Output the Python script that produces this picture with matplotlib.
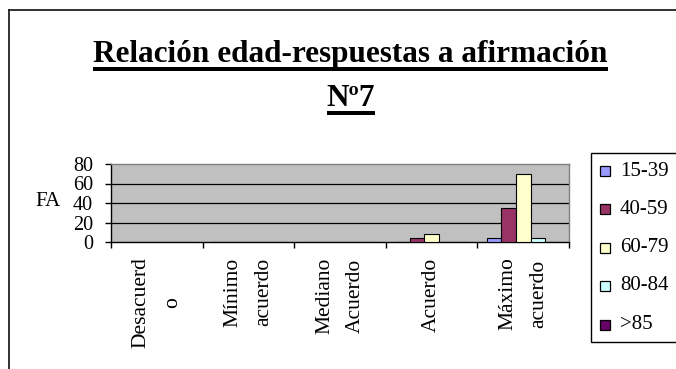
import matplotlib
matplotlib.use("Agg")
import matplotlib.pyplot as plt
from matplotlib.patches import Rectangle
from matplotlib.lines import Line2D
import numpy as np

# Response categories (x axis) and age groups (series)
categories = ["Desacuerd\no", "Mínimo\nacuerdo", "Mediano\nAcuerdo", "Acuerdo", "Máximo\nacuerdo"]
age_groups = ["15-39", "40-59", "60-79", "80-84", ">85"]
counts = {
    "15-39": [0, 0, 0, 0, 4],
    "40-59": [0, 0, 0, 4, 35],
    "60-79": [0, 0, 0, 8, 70],
    "80-84": [0, 0, 0, 0, 4],
    ">85":   [0, 0, 0, 0, 0],
}
colors = ["#9999FF", "#993366", "#FFFFCC", "#CCFFFF", "#660066"]
y_ticks = [0, 20, 40, 60, 80]

title_line1 = "Relación edad-respuestas a afirmación"
title_line2 = "Nº7"
y_label = "FA"

SERIF = "Liberation Serif"
W, H, DPI = 676, 369, 100

fig = plt.figure(figsize=(W / DPI, H / DPI), dpi=DPI)
fig.patch.set_facecolor("white")


def px_x(x):
    return x / W


def px_y(y):
    return 1 - y / H


# Outer chart frame (top and left edges visible)
fig.add_artist(Line2D([px_x(9), 1.0], [px_y(10), px_y(10)], color="#222222", lw=1.3,
                      transform=fig.transFigure))
fig.add_artist(Line2D([px_x(9), px_x(9)], [px_y(10), 0.0], color="#222222", lw=1.3,
                      transform=fig.transFigure))

# Plot area
left, right, top, bottom = 111, 569, 164, 242
ax = fig.add_axes([px_x(left), px_y(bottom), (right - left) / W, (bottom - top) / H])
ax.set_facecolor("#C0C0C0")

x = np.arange(len(categories))
n = len(age_groups)
bw = 0.16
for i, (grp, col) in enumerate(zip(age_groups, colors)):
    ax.bar(x + (i - (n - 1) / 2) * bw, counts[grp], width=bw, color=col,
           edgecolor="black", linewidth=0.8, zorder=3)

ax.set_xlim(-0.5, len(categories) - 0.5)
ax.set_ylim(0, 80)

# Horizontal gridlines
for v in y_ticks[1:-1]:
    ax.axhline(v, color="black", lw=0.9, zorder=1)

for side in ("top", "right"):
    ax.spines[side].set_color("#808080")
    ax.spines[side].set_linewidth(1.0)
for side in ("left", "bottom"):
    ax.spines[side].set_color("black")
    ax.spines[side].set_linewidth(1.0)

ax.set_yticks(y_ticks)
ax.set_yticklabels([str(v) for v in y_ticks], fontfamily=SERIF, fontsize=14.5)
ax.tick_params(axis="y", direction="out", length=4, width=1.0, pad=9)

ax.set_xticks(x)
ax.set_xticklabels(categories, rotation=90, fontfamily=SERIF, fontsize=15.5,
                   ha="center", va="top", multialignment="center", linespacing=1.85)
ax.tick_params(axis="x", which="major", length=0, pad=11)
ax.set_xticks(np.arange(len(categories) + 1) - 0.5, minor=True)
ax.tick_params(axis="x", which="minor", direction="out", length=4, width=1.0)

ax.set_ylabel(y_label, rotation=0, fontfamily=SERIF, fontsize=15, ha="center", va="center")
ax.yaxis.set_label_coords((48.5 - left) / (right - left), (bottom - 202) / (bottom - top))

# Title with underline
t1 = fig.text(px_x(350.5), px_y(62), title_line1, ha="center", va="baseline",
              fontfamily=SERIF, fontweight="bold", fontsize=22.5)
t2 = fig.text(px_x(351), px_y(106), title_line2, ha="center", va="baseline",
              fontfamily=SERIF, fontweight="bold", fontsize=22.5)
fig.canvas.draw()
renderer = fig.canvas.get_renderer()
for t, uy in ((t1, 68.5), (t2, 112.5)):
    bb = t.get_window_extent(renderer)
    fig.add_artist(Rectangle((bb.x0 / W, px_y(uy + 2)), (bb.x1 - bb.x0) / W, 4 / H,
                             facecolor="black", edgecolor="none",
                             transform=fig.transFigure))

# Legend box
fig.add_artist(Rectangle((px_x(591), px_y(342)), (700 - 591) / W, (342 - 153) / H,
                         facecolor="white", edgecolor="black", lw=1.0,
                         transform=fig.transFigure))
entry_y = [171, 209, 247.5, 286, 324.5]
for grp, col, ey in zip(age_groups, colors, entry_y):
    fig.add_artist(Rectangle((px_x(600), px_y(ey + 5)), 10 / W, 10 / H,
                             facecolor=col, edgecolor="black", lw=0.9,
                             transform=fig.transFigure))
    fig.text(px_x(620), px_y(ey), grp, ha="left", va="center",
             fontfamily=SERIF, fontsize=15)

fig.savefig("out.png", dpi=DPI)
